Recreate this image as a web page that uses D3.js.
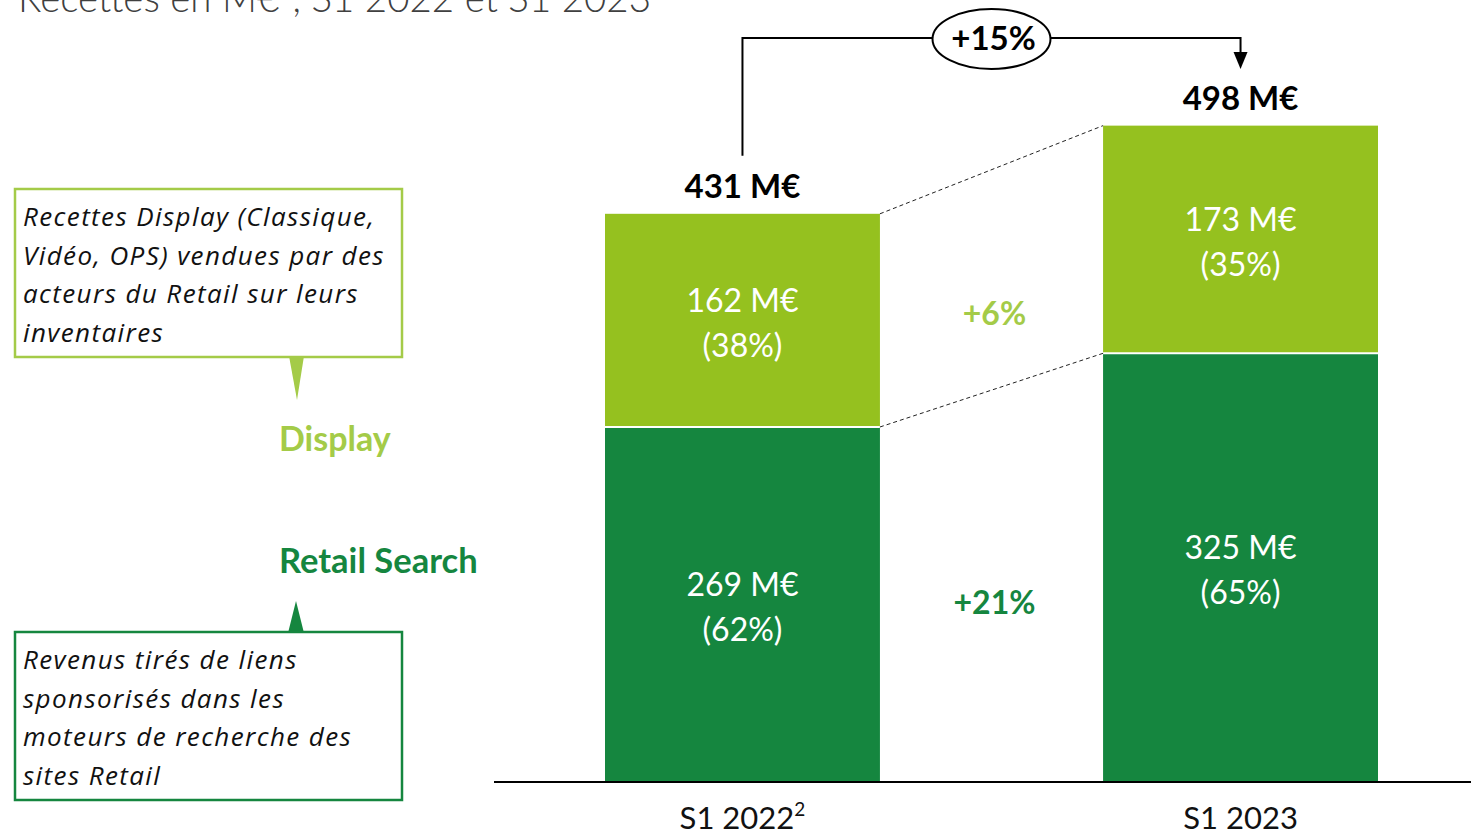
<!DOCTYPE html>
<html>
<head>
<meta charset="utf-8">
<script src="https://cdn.jsdelivr.net/npm/d3@7"></script>
<style>
  body { margin: 0; background: #fff; }
  text { font-family: Lato, "Open Sans", sans-serif; }
</style>
</head>
<body>
<script>
// values
var periods = ["S1 2022", "S1 2023"];
var search = [269, 325];
var display = [162, 173];
var totals = [431, 498];
var searchShare = ["62%", "65%"];
var displayShare = ["38%", "35%"];
var growthDisplay = "+6%";
var growthSearch = "+21%";
var growthTotal = "+15%";

var width = 1471,
    height = 833;

var light = "#95c11f",
    dark = "#15863f",
    lightText = "#a4cb48";

var svg = d3.select("body")
            .append("svg")
            .attr("width", width)
            .attr("height", height);

var x = d3.scaleBand()
          .domain(periods)
          .range([605, 1378])
          .paddingInner(0.448)
          .paddingOuter(0);

var y = d3.scaleLinear()
          .domain([0, 500])
          .range([781, 123]);

var rows = periods.map(function(p, i) {
    return {p: p, s: search[i], d: display[i], t: totals[i], ss: searchShare[i], ds: displayShare[i]};
});

// title (cut at the top in the original)
var title = svg.append("text")
   .attr("x", 18).attr("y", 12)
   .attr("fill", "#404040")
   .style("font-size", "38.5px")
   .style("font-weight", 300);
title.append("tspan").text("Recettes en M€");
title.append("tspan").attr("dy", -15).style("font-size", "23px").text("1");
title.append("tspan").attr("dy", 15).text(", S1 2022 et S1 2023");

// bars
var bars = svg.append("g");
bars.selectAll("rect.search")
    .data(rows)
    .enter()
    .append("rect")
      .attr("class", "search")
      .attr("x", d => x(d.p))
      .attr("width", x.bandwidth())
      .attr("y", d => y(d.s))
      .attr("height", d => y(0) - y(d.s))
      .attr("fill", dark);

bars.selectAll("rect.display")
    .data(rows)
    .enter()
    .append("rect")
      .attr("class", "display")
      .attr("x", d => x(d.p))
      .attr("width", x.bandwidth())
      .attr("y", d => y(d.s + d.d))
      .attr("height", d => y(d.s) - y(d.s + d.d))
      .attr("fill", light);

bars.selectAll("line.sep")
    .data(rows)
    .enter()
    .append("line")
      .attr("x1", d => x(d.p)).attr("x2", d => x(d.p) + x.bandwidth())
      .attr("y1", d => y(d.s)).attr("y2", d => y(d.s))
      .attr("stroke", "#fff").attr("stroke-width", 2);

// baseline
svg.append("line")
   .attr("x1", 494).attr("x2", width)
   .attr("y1", y(0) + 1).attr("y2", y(0) + 1)
   .attr("stroke", "#000").attr("stroke-width", 2);

// segment labels
function segLabel(sel, val, share, y0, y1) {
    var cy = (y(y0) + y(y1)) / 2;
    sel.append("text").attr("y", cy - 8).text(val + " M€");
    sel.append("text").attr("y", cy + 37).text("(" + share + ")");
}
rows.forEach(function(d) {
    var g = svg.append("g")
       .attr("transform", "translate(" + (x(d.p) + x.bandwidth() / 2) + ",0)")
       .attr("text-anchor", "middle")
       .attr("fill", "#fff")
       .style("font-size", "32px");
    segLabel(g, d.s, d.ss, 0, d.s);
    segLabel(g, d.d, d.ds, d.s, d.s + d.d);

    svg.append("text")
       .attr("x", x(d.p) + x.bandwidth() / 2)
       .attr("y", y(d.t) - 16)
       .attr("text-anchor", "middle")
       .style("font-size", "33px")
       .style("font-weight", 700)
       .text(d.t + " M€");
});

// dashed connectors
var r0 = rows[0], r1 = rows[1];
var xr = x(r0.p) + x.bandwidth(), xl = x(r1.p);
[[r0.t, r1.t], [r0.s, r1.s]].forEach(function(v) {
    svg.append("line")
       .attr("x1", xr).attr("y1", y(v[0]))
       .attr("x2", xl).attr("y2", y(v[1]))
       .attr("stroke", "#222").attr("stroke-width", 1)
       .attr("stroke-dasharray", "4,3");
});

var midX = (xr + xl) / 2 + 3;
svg.append("text")
   .attr("x", midX).attr("y", (y(r0.s) + y(r0.t)) / 2 + 5)
   .attr("text-anchor", "middle")
   .attr("fill", lightText)
   .style("font-size", "32px").style("font-weight", 700)
   .text(growthDisplay);
svg.append("text")
   .attr("x", midX).attr("y", (y(0) + y(r0.s)) / 2 + 10)
   .attr("text-anchor", "middle")
   .attr("fill", dark)
   .style("font-size", "32px").style("font-weight", 700)
   .text(growthSearch);

// total growth bracket
var cx0 = x(r0.p) + x.bandwidth() / 2,
    cx1 = x(r1.p) + x.bandwidth() / 2,
    topY = 38;
svg.append("path")
   .attr("d", "M" + cx0 + "," + (y(r0.t) - 58) + "V" + topY + "H" + cx1 + "V" + 54)
   .attr("fill", "none").attr("stroke", "#000").attr("stroke-width", 2);
svg.append("path")
   .attr("d", "M" + (cx1 - 7) + ",52L" + (cx1 + 7) + ",52L" + cx1 + ",69Z")
   .attr("fill", "#000");
svg.append("ellipse")
   .attr("cx", midX - 3).attr("cy", topY + 1)
   .attr("rx", 59).attr("ry", 30)
   .attr("fill", "#fff").attr("stroke", "#000").attr("stroke-width", 2);
svg.append("text")
   .attr("x", midX - 1).attr("y", topY + 12)
   .attr("text-anchor", "middle")
   .style("font-size", "33px").style("font-weight", 700)
   .text(growthTotal);

// category labels
periods.forEach(function(p, i) {
    var t = svg.append("text")
       .attr("x", x(p) + x.bandwidth() / 2)
       .attr("y", 829)
       .attr("text-anchor", "middle")
       .attr("fill", "#111")
       .style("font-size", "31px");
    t.append("tspan").text(p);
    if (i === 0) t.append("tspan").attr("dy", -13).style("font-size", "19px").text("2");
});

// legend callouts
function callout(lines, bx, by, col, tip) {
    svg.append("path")
       .attr("d", tip)
       .attr("fill", col);
    svg.append("rect")
       .attr("x", bx).attr("y", by)
       .attr("width", 387).attr("height", 168)
       .attr("fill", "#fff").attr("stroke", col).attr("stroke-width", 2.5);
    svg.append("g").selectAll("text")
       .data(lines)
       .enter()
       .append("text")
         .attr("x", bx + 8)
         .attr("y", (d, i) => by + 37 + i * 38.5)
         .style("font-family", "'Open Sans', sans-serif")
         .style("font-size", "26px")
         .style("letter-spacing", "1.4px")
         .style("font-style", "italic")
         .attr("fill", "#111")
         .text(d => d);
}
callout(["Recettes Display (Classique,", "Vidéo, OPS) vendues par des", "acteurs du Retail sur leurs", "inventaires"],
        15, 189, "#a4cb48", "M289,356L304,356L297,400Z");
callout(["Revenus tirés de liens", "sponsorisés dans les", "moteurs de recherche des", "sites Retail"],
        15, 632, dark, "M288,633L304,633L296,601Z");

svg.append("text")
   .attr("x", 279).attr("y", 451)
   .attr("fill", lightText)
   .style("font-size", "34px").style("font-weight", 700)
   .text("Display");
svg.append("text")
   .attr("x", 279).attr("y", 573)
   .attr("fill", dark)
   .style("font-size", "34.5px").style("font-weight", 700)
   .text("Retail Search");
</script>
</body>
</html>
